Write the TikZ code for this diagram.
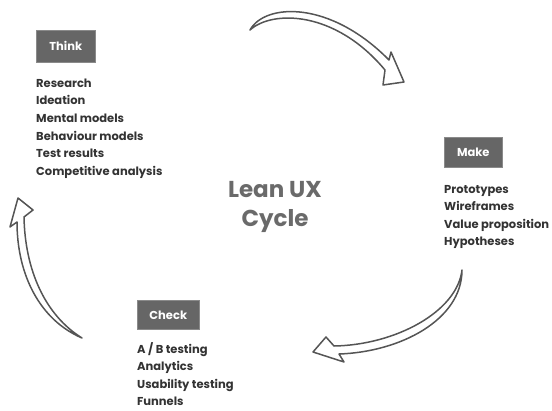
\documentclass[tikz,border=0pt]{standalone}
\usepackage{fontspec}
\setmainfont{Poppins}
\definecolor{boxgray}{HTML}{666666}
\definecolor{boxedge}{HTML}{8A8A8A}
\definecolor{textdark}{HTML}{333333}
\definecolor{titlegray}{HTML}{6A6A6A}
\definecolor{arrowgray}{HTML}{555555}
\begin{document}
\begin{tikzpicture}[x=1pt,y=-1pt,
  hdr/.style={fill=boxgray, draw=boxedge, line width=0.6pt, text=white,
    font=\bfseries\fontsize{11.5}{13}\selectfont, anchor=north west, inner sep=0},
  item/.style={anchor=base west, inner sep=0, text=textdark,
    font=\bfseries\fontsize{11.5}{13}\selectfont},
  title/.style={inner sep=0, text=titlegray, anchor=base,
    font=\bfseries\fontsize{23}{26}\selectfont},
  cyclearrow/.style={draw=arrowgray, fill=white, line width=1.5pt,
    line join=round}]
\useasboundingbox (0,0) rectangle (552,410);

% phase headers
\node[hdr, minimum width=59pt, minimum height=32pt] (think) at (36,30) {Think};
\node[hdr, minimum width=58pt, minimum height=30pt] (make) at (444,137) {Make};
\node[hdr, minimum width=62pt, minimum height=29pt] (check) at (137,300) {Check};

% activities of each phase
\foreach \t [count=\i] in {Research, Ideation, Mental models,
    Behaviour models, Test results, Competitive analysis}
  \node[item] (think\i) at (36, 87+17.7*\i-17.7) {\t};
\foreach \t [count=\i] in {Prototypes, Wireframes, Value proposition, Hypotheses}
  \node[item] (make\i) at (444, 193+17.6*\i-17.6) {\t};
\foreach \t [count=\i] in {A / B testing, Analytics, Usability testing, Funnels}
  \node[item] (check\i) at (137, 353+17.6*\i-17.6) {\t};

% centre title
\node[title] (lean) at (275,197) {Lean UX};
\node[title] (cycle) at (275,226) {Cycle};

% hollow hand-drawn cycle arrows
\draw[cyclearrow] (250,30) .. controls (265,3) and (330,0) .. (389,60)
  -- (391,52) -- (404,82) -- (383,85) -- (385,70)
  .. controls (335,10) and (272,10) .. (250,30) -- cycle;
\draw[cyclearrow] (462,270) .. controls (462,320) and (400,352) .. (339,354)
  -- (344,362) -- (313,352) -- (326,337) -- (334,346)
  .. controls (395,345) and (457,312) .. (462,270) -- cycle;
\draw[cyclearrow] (82,338) .. controls (45,315) and (25,270) .. (24,217)
  -- (33,210) -- (18,198) -- (10,227) -- (17,222)
  .. controls (17,275) and (40,320) .. (82,338) -- cycle;
\end{tikzpicture}
\end{document}
